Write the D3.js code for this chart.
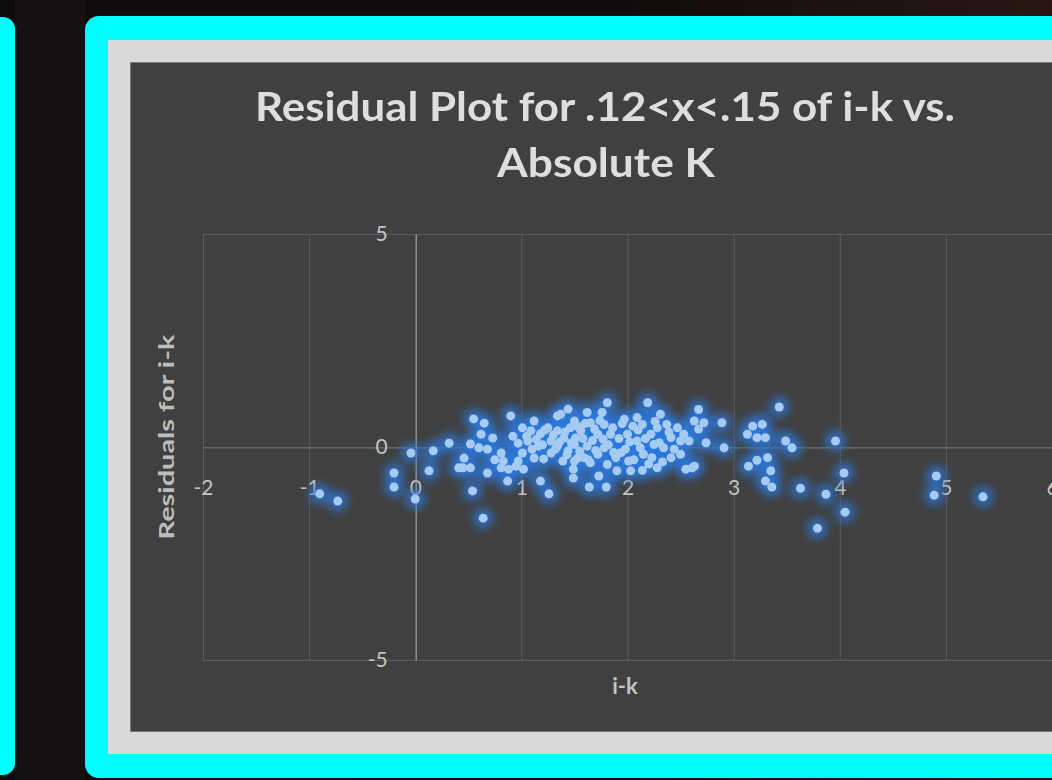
<!DOCTYPE html>
<html>
<head>
<meta charset="utf-8">
<script src="https://cdn.jsdelivr.net/npm/d3@7/dist/d3.min.js"></script>
<style>
    body { margin: 0; background: #0b0908; overflow: hidden; }
    #chart-area { width: 1052px; height: 780px; }
</style>
</head>
<body>
<div id="chart-area"></div>
<script>

// chart texts
const titleLines = ["Residual Plot for .12<x<.15 of i-k vs.", "Absolute K"];
const xTitle = "i-k";
const yTitle = "Residuals for i-k";

// axis ticks
const xTicks = [-2, -1, 0, 1, 2, 3, 4, 5, 6];
const yTicks = [-5, 0, 5];

// residual points: [i-k, residual]
const residualPoints = [
    [-0.90,-1.10],[-0.73,-1.27],[-0.20,-0.61],[-0.20,-0.94],[-0.04,-0.14],[0.00,-1.22],[0.13,-0.56],[0.17,-0.09],[0.32,0.09],[0.41,-0.49],
    [0.52,0.07],[0.60,-0.02],[0.68,-0.05],[0.73,0.21],[0.46,-0.26],[0.45,-0.49],[0.52,-0.49],[0.68,-0.61],[0.54,-1.03],[0.64,-1.67],
    [0.55,0.66],[0.65,0.56],[0.90,0.73],[0.81,-0.14],[0.83,-0.33],[0.81,-0.49],[0.88,-0.52],[0.87,-0.80],
    [1.01,0.45],[1.09,0.38],[1.06,0.14],[0.97,0.09],[1.01,-0.14],[0.97,-0.33],[1.02,-0.52],
    [1.18,0.31],[1.25,0.45],[1.28,0.14],[1.16,0.02],[1.12,-0.26],[1.21,-0.28],[1.28,-0.14],[1.18,-0.80],[1.26,-1.10],
    [1.37,0.77],[1.44,0.89],[1.34,0.38],[1.40,0.21],[1.46,0.45],[1.51,0.21],[1.34,0.02],[1.44,-0.09],[1.53,-0.26],[1.39,-0.33],[1.49,-0.52],[1.49,-0.73],
    [1.81,1.04],[2.19,1.04],[1.62,0.81],[1.76,0.81],[1.50,0.61],[1.65,0.57],[1.78,0.53],[1.56,0.38],[1.72,0.30],[1.84,0.30],
    [1.50,0.06],[1.62,0.02],[1.78,-0.02],[1.59,-0.25],[1.72,-0.17],[1.87,-0.13],[1.50,-0.33],[1.65,-0.37],[1.81,-0.41],
    [1.97,0.65],[2.09,0.69],[2.05,0.49],[2.14,0.53],[2.00,0.30],[2.09,0.14],[2.22,0.30],[2.28,0.45],[2.37,0.53],[2.31,0.77],
    [2.25,0.06],[2.34,-0.02],[2.41,0.22],[2.50,0.14],[2.58,0.14],[1.94,-0.13],[2.01,-0.33],[2.15,-0.17],[2.23,-0.25],[2.28,-0.49],[2.41,-0.25],[2.50,-0.17],
    [1.73,-0.68],[1.64,-0.94],[1.80,-0.94],[1.90,-0.56],[2.03,-0.56],[2.14,-0.55],[2.55,-0.52],[2.63,-0.45],[2.63,0.61],[2.67,0.88],
    [1.34,0.73],[1.12,0.61],
    [2.72,0.57],[2.67,0.42],[2.74,0.10],[2.89,0.57],[2.91,-0.02],[2.61,-0.49],
    [3.43,0.94],[3.18,0.49],[3.27,0.53],[3.13,0.30],[3.22,0.22],[3.30,0.22],[3.49,0.14],[3.55,-0.02],[3.32,-0.25],[3.22,-0.31],
    [3.14,-0.45],[3.35,-0.56],[3.30,-0.80],[3.36,-0.94],[3.63,-0.97],[3.87,-1.11],[3.96,0.14],[3.79,-1.91],
    [4.04,-0.61],[4.05,-1.53],[4.91,-0.68],[4.89,-1.13],[5.35,-1.17],
    [1.05,0.25],[1.10,-0.05],[1.14,0.18],[1.20,0.05],[1.22,0.40],[1.30,0.28],[1.32,-0.05],[1.36,0.12],[1.41,0.35],[1.43,-0.18],
    [1.47,0.10],[1.53,0.48],[1.55,-0.10],[1.58,0.20],[1.60,0.55],[1.63,-0.30],[1.67,0.15],[1.69,0.42],[1.70,-0.08],[1.74,0.62],
    [1.77,0.18],[1.82,0.05],[1.86,0.45],[1.89,-0.25],[1.92,0.20],[1.95,0.55],[1.98,-0.05],[2.02,0.12],[2.06,-0.30],[2.10,0.40],
    [2.12,-0.02],[2.17,0.20],[2.20,-0.40],[2.26,0.60],[2.30,0.10],[2.33,-0.35],[2.39,0.35],[2.44,-0.05],[2.47,0.45],[2.53,0.30],
    [0.92,0.25],[0.95,-0.45],[0.75,-0.30],[0.62,0.30]
];


class ResidualVis {

    constructor(parentElement, data) {
        this.parentElement = parentElement;
        this.data = data;

        this.initVis();
    }

    /*
     * frame, panels, scales and axes
     */
    initVis() {
        let vis = this;

        vis.width = 1052;
        vis.height = 780;
        vis.plot = {left: 203, top: 234, right: 1052, bottom: 660};

        vis.svg = d3.select("#" + vis.parentElement).append("svg")
            .attr("width", vis.width)
            .attr("height", vis.height);

        let defs = vis.svg.append("defs");

        let bg = defs.append("linearGradient").attr("id", "bg-grad")
            .attr("x1", 0).attr("y1", 0).attr("x2", 1).attr("y2", 0);
        bg.append("stop").attr("offset", "0%").attr("stop-color", "#0d0b0a");
        bg.append("stop").attr("offset", "60%").attr("stop-color", "#100c0b");
        bg.append("stop").attr("offset", "100%").attr("stop-color", "#2a1712");

        defs.append("filter").attr("id", "glow")
            .attr("x", "-20%").attr("y", "-20%").attr("width", "140%").attr("height", "140%")
            .append("feGaussianBlur").attr("stdDeviation", 5);

        defs.append("filter").attr("id", "soft")
            .append("feGaussianBlur").attr("stdDeviation", 0.4);

        // background and the cyan / gray frames
        vis.svg.append("rect").attr("width", vis.width).attr("height", vis.height).attr("fill", "url(#bg-grad)");
        vis.svg.append("rect").attr("x", 15).attr("y", 0).attr("width", 70).attr("height", vis.height).attr("fill", "#151110");

        vis.svg.append("rect").attr("x", -30).attr("y", 17).attr("width", 45).attr("height", 758)
            .attr("rx", 12).attr("fill", "#00ffff");
        vis.svg.append("rect").attr("x", 85).attr("y", 16).attr("width", 1000).attr("height", 762)
            .attr("rx", 14).attr("fill", "#00ffff");
        vis.svg.append("rect").attr("x", 108).attr("y", 40).attr("width", 980).attr("height", 714)
            .attr("fill", "#d9d9d9");
        vis.svg.append("rect").attr("x", 130.5).attr("y", 62.5).attr("width", 960).attr("height", 669)
            .attr("fill", "#404040").attr("stroke", "#7a7a7a").attr("stroke-width", 1);

        // scales
        vis.x = d3.scaleLinear()
            .domain([d3.min(xTicks), d3.max(xTicks)])
            .range([vis.plot.left, vis.plot.right]);

        vis.y = d3.scaleLinear()
            .domain([d3.min(yTicks), d3.max(yTicks)])
            .range([vis.plot.bottom, vis.plot.top]);

        // gridlines
        let grid = vis.svg.append("g").attr("class", "grid");
        grid.selectAll(".vgrid").data(xTicks).enter().append("line")
            .attr("x1", d => vis.x(d) + 0.5).attr("x2", d => vis.x(d) + 0.5)
            .attr("y1", vis.plot.top).attr("y2", vis.plot.bottom)
            .attr("stroke", "#5c5c5c");
        grid.selectAll(".hgrid").data(yTicks).enter().append("line")
            .attr("x1", vis.plot.left).attr("x2", vis.plot.right)
            .attr("y1", d => vis.y(d) + 0.5).attr("y2", d => vis.y(d) + 0.5)
            .attr("stroke", "#5c5c5c");

        // axes cross at 0, labels with a plain hyphen like the original
        vis.xAxis = d3.axisBottom(vis.x).tickValues(xTicks).tickSize(0).tickPadding(33)
            .tickFormat(d => String(d));
        vis.yAxis = d3.axisLeft(vis.y).tickValues(yTicks).tickSize(0).tickPadding(28)
            .tickFormat(d => String(d));

        let xg = vis.svg.append("g").attr("class", "x-axis axis")
            .attr("transform", "translate(0," + (vis.y(0) + 0.5) + ")")
            .call(vis.xAxis);
        xg.select(".domain").attr("stroke", "#6a6a6a");

        let yg = vis.svg.append("g").attr("class", "y-axis axis")
            .attr("transform", "translate(" + (vis.x(0) + 0.5) + ",0)")
            .call(vis.yAxis);
        yg.select(".domain").attr("stroke", "#a8a8a8");

        vis.svg.selectAll(".axis text")
            .attr("font-family", "Lato, 'Open Sans', sans-serif")
            .attr("font-size", 21)
            .attr("fill", "#c4c4c4");

        // titles
        let title = vis.svg.append("g").attr("filter", "url(#soft)");
        title.append("text").attr("x", 605).attr("y", 121)
            .attr("text-anchor", "middle")
            .attr("textLength", 700).attr("lengthAdjust", "spacingAndGlyphs")
            .attr("font-family", "Lato, 'Open Sans', sans-serif").attr("font-weight", "bold")
            .attr("font-size", 41).attr("fill", "#dedede")
            .text(titleLines[0]);
        title.append("text").attr("x", 606).attr("y", 177)
            .attr("text-anchor", "middle")
            .attr("textLength", 218).attr("lengthAdjust", "spacingAndGlyphs")
            .attr("font-family", "Lato, 'Open Sans', sans-serif").attr("font-weight", "bold")
            .attr("font-size", 41).attr("fill", "#dedede")
            .text(titleLines[1]);

        vis.svg.append("text")
            .attr("transform", "translate(174,437) rotate(-90)")
            .attr("text-anchor", "middle")
            .attr("textLength", 205).attr("lengthAdjust", "spacingAndGlyphs")
            .attr("font-family", "Lato, 'Open Sans', sans-serif").attr("font-weight", "bold")
            .attr("font-size", 21).attr("fill", "#bdbdbd")
            .text(yTitle);

        vis.svg.append("text")
            .attr("x", 625).attr("y", 694)
            .attr("text-anchor", "middle")
            .attr("font-family", "Lato, 'Open Sans', sans-serif").attr("font-weight", "bold")
            .attr("font-size", 22).attr("fill", "#c4c4c4")
            .text(xTitle);

        vis.glowLayer = vis.svg.append("g").attr("filter", "url(#glow)");
        vis.pointLayer = vis.svg.append("g");

        vis.wrangleData();
    }

    wrangleData() {
        let vis = this;

        vis.displayData = vis.data.map(d => ({ik: d[0], resid: d[1]}));

        vis.updateVis();
    }

    updateVis() {
        let vis = this;

        vis.glowLayer.selectAll("circle").data(vis.displayData).enter().append("circle")
            .attr("cx", d => vis.x(d.ik))
            .attr("cy", d => vis.y(d.resid))
            .attr("r", 10)
            .attr("fill", "#2a78dc")
            .attr("fill-opacity", 0.8);

        vis.pointLayer.selectAll("circle").data(vis.displayData).enter().append("circle")
            .attr("cx", d => vis.x(d.ik))
            .attr("cy", d => vis.y(d.resid))
            .attr("r", 4.5)
            .attr("fill", "#a6cbf3");
    }
}

new ResidualVis("chart-area", residualPoints);

</script>
</body>
</html>
